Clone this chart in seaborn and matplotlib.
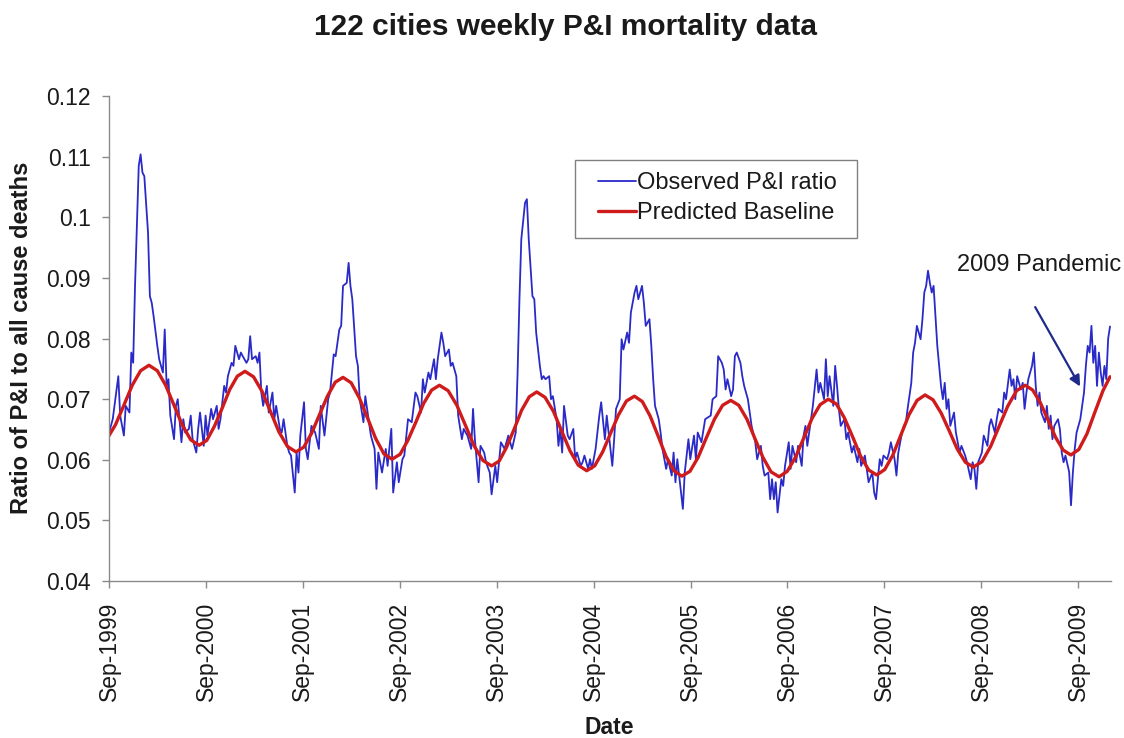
import numpy as np
import pandas as pd
import matplotlib
matplotlib.use("Agg")
import matplotlib.pyplot as plt
from matplotlib.patches import Rectangle
import seaborn as sns

sns.set_theme(style="ticks")
plt.rcParams['font.family'] = ['Liberation Sans', 'DejaVu Sans']

START = pd.Timestamp("1999-09-01")

# ---- observed weekly P&I ratio (week index since Sep-1999, value) ----
obs_week = [
    0, 2, 5, 6, 8, 9, 11, 12, 13, 14, 16, 17, 18, 19, 21, 22, 23, 24, 26, 27, 29, 30, 31, 32, 33,
    35, 36, 37, 39, 40, 41, 43, 44, 45, 47, 48, 49, 51, 52, 53, 55, 56, 58, 59, 60, 62, 63, 64, 66,
    67, 68, 70, 71, 72, 74, 75, 76, 77, 79, 80, 81, 82, 83, 85, 86, 88, 89, 90, 92, 93, 94, 96, 97,
    98, 100, 101, 102, 103, 105, 106,
    107, 109, 111, 113, 114, 116, 118, 119, 121, 122, 124, 125, 126, 128, 129, 130, 131, 133, 134,
    135, 137, 138, 140, 141, 143, 144, 145, 147, 149, 150, 152, 153, 155, 156, 158, 159, 161, 163,
    165, 166, 168, 169, 170, 172, 173, 175, 176, 177, 179, 180, 181, 183, 184, 185, 187, 188, 190,
    191, 192, 193, 195, 196, 197, 199, 200, 202, 203, 205, 206, 208, 209, 211, 213, 215,
    217, 219, 220, 221, 222, 224, 225, 226, 228, 229, 230, 232, 233, 234, 235, 237, 238, 239, 241,
    242, 243, 244, 245, 247, 248, 250, 251, 252, 254, 255, 256, 258, 259, 260, 262, 263, 264, 265,
    267, 268, 269, 271, 272, 273, 275, 276, 277, 279, 280, 281, 283, 284, 285, 287, 288, 289, 291,
    292, 293, 294, 296, 297, 298, 300, 301, 303, 304, 305, 306, 308, 309, 310, 312, 313, 315, 316,
    317, 319, 321,
    324, 325, 327, 328, 330, 331, 332, 333, 335, 336, 337, 338, 340, 341, 342, 344, 345, 346, 348,
    349, 351, 352, 353, 355, 356, 357, 358, 359, 360, 362, 363, 364, 366, 367, 368, 370, 371, 373,
    374, 375, 376, 378, 379, 381, 382, 383, 385, 386, 387, 388, 390, 391, 392, 393, 394, 396, 397,
    398, 400, 401, 403, 404, 405, 407, 408, 409, 411, 412, 413, 415, 416, 417, 419, 420, 421, 423,
    424, 425, 427, 428, 429,
    430, 432, 433, 434, 435, 437, 438, 439, 440, 441, 442, 443, 444, 445, 446, 447, 448, 449, 450,
    451, 452, 453, 455, 456, 457, 458, 459, 461, 462, 464, 465, 466, 467, 468, 470, 471, 473, 474,
    475, 477, 478, 479, 481, 482, 483, 485, 486, 487, 488, 489, 491, 492, 493, 494, 495, 497, 498,
    499, 500, 501, 502, 504, 505, 506, 507, 508, 509, 511, 512, 513, 514, 515, 517, 518, 519, 520,
    521, 523, 525, 526, 527, 528, 529, 530, 531, 532, 533, 534, 535, 536, 537, 538, 539,
]
obs_ratio = [
    .0645, .0667, .0738, .0673, .0640, .0689, .0678, .0777, .0760, .0887, .1085, .1104, .1074, .1068,
    .0975, .0870, .0859, .0837, .0788, .0766, .0744, .0815, .0722, .0733, .0673,
    .0634, .0689, .0700, .0629, .0667, .0645, .0651, .0673, .0634, .0612, .0651, .0678, .0623, .0673,
    .0640, .0684, .0667, .0689, .0651, .0667, .0722, .0711, .0738, .0760,
    .0755, .0788, .0766, .0777, .0771, .0760, .0766, .0804, .0766, .0771, .0760, .0777, .0711, .0689,
    .0722, .0678, .0711, .0667, .0689, .0651, .0645, .0667, .0623, .0612,
    .0607, .0546, .0612, .0579, .0640, .0695, .0618,
    .0601, .0656, .0645, .0618, .0689, .0640, .0700, .0711, .0774, .0771, .0815, .0821, .0887, .0892,
    .0925, .0887, .0865, .0771, .0755,
    .0700, .0662, .0705, .0662, .0640, .0618, .0552, .0612, .0579, .0618, .0590, .0651, .0546, .0596,
    .0563, .0601, .0607, .0667, .0662,
    .0711, .0705, .0678, .0733, .0711, .0744, .0733, .0766, .0733, .0766, .0810, .0793, .0771, .0782,
    .0755, .0760, .0738, .0673, .0634,
    .0651, .0645, .0640, .0618, .0684, .0634, .0563, .0623, .0612, .0596, .0579, .0543, .0590, .0563,
    .0629, .0618, .0640,
    .0618, .0645, .0744, .0865, .0964, .1024, .1030, .0964, .0870, .0865, .0810, .0755, .0733, .0738,
    .0733, .0738, .0700, .0705, .0667,
    .0623, .0651, .0612, .0689, .0640, .0634, .0651, .0601, .0612, .0590, .0596, .0607, .0585, .0601,
    .0585, .0618, .0645, .0673, .0695,
    .0634, .0673, .0645, .0590, .0634, .0684, .0700, .0799, .0782, .0810, .0793, .0843, .0876, .0887,
    .0865, .0887, .0859, .0821, .0832,
    .0788, .0733, .0689, .0667, .0645, .0618, .0585, .0601, .0574, .0612, .0563, .0601, .0546, .0519,
    .0579, .0634, .0601, .0640, .0601,
    .0645, .0629, .0667,
    .0673, .0700, .0705, .0771, .0760, .0749, .0716, .0733, .0705, .0716, .0771, .0777, .0760, .0738,
    .0722, .0700, .0678, .0656, .0629,
    .0601, .0623, .0590, .0574, .0579, .0535, .0568, .0535, .0563, .0513, .0568, .0557, .0590, .0629,
    .0585, .0623, .0596, .0623, .0590,
    .0640, .0656, .0623, .0667, .0689, .0749, .0711, .0727, .0700, .0766, .0705, .0738, .0689, .0755,
    .0722, .0684, .0656, .0667, .0634,
    .0645, .0612, .0623, .0596, .0618, .0590, .0607, .0585, .0563, .0579, .0546, .0535, .0601, .0590,
    .0607, .0601, .0612, .0629, .0601,
    .0574, .0612, .0645, .0656, .0660,
    .0684, .0727, .0777, .0793, .0821, .0799, .0832, .0876, .0887, .0912, .0892, .0876, .0887, .0837,
    .0788, .0755, .0722, .0700, .0727,
    .0684, .0700, .0656, .0678, .0645, .0629, .0612, .0623, .0607, .0596, .0568, .0596, .0585, .0552,
    .0596, .0612, .0640, .0623, .0656,
    .0667, .0645, .0667, .0684, .0678, .0711, .0700, .0749, .0722, .0733, .0700, .0738, .0716, .0727,
    .0684, .0711, .0733, .0755, .0777,
    .0722, .0689, .0711, .0678, .0662, .0689, .0651, .0673, .0634, .0656, .0667, .0651, .0612, .0596,
    .0607, .0580, .0525, .0579, .0618,
    .0645, .0667, .0711, .0755, .0788, .0777, .0821, .0760, .0788, .0722, .0777, .0744, .0722, .0755,
    .0733, .0800, .0820,
]

# ---- predicted seasonal baseline (week index, value) ----
base_week = [
    0, 3.5, 8, 12.5, 17, 21.5, 26, 30.5, 35, 39.5, 44, 48.5, 52.6, 56.7, 60.9, 65.0, 69.1, 73.2,
    77.8, 82.4, 86.9, 91.5, 96.1, 100.7, 104.9, 109.1, 113.4, 117.6, 121.8, 126, 130.4, 134.8,
    139.2, 143.6, 148, 152.4, 156.7, 160.9, 165.2, 169.4, 173.7, 177.9, 182.6, 187.3, 191.9,
    196.6, 201.3, 206, 210.1, 214.1, 218.2, 222.2, 226.3, 230.3, 234.8, 239.3, 243.8, 248.2,
    252.7, 257.2, 261.5, 265.8, 270.1, 274.3, 278.6, 282.9, 287.2, 291.4, 295.7, 299.9, 304.2,
    308.4, 312.8, 317.2, 321.6, 326, 330.4, 334.8, 339.1, 343.5, 347.8, 352.1, 356.5, 360.8,
    365.2, 369.6, 374.1, 378.5, 382.9, 387.3, 391.7, 396, 400.4, 404.7, 409.1, 413.4, 417.7,
    422.1, 426.4, 430.7, 435.1, 439.4, 443.7, 448.1, 452.4, 456.7, 461.1, 465.4, 470.1, 474.7,
    479.4, 484, 488.7, 493.3, 497.4, 501.5, 505.6, 509.7, 513.8, 517.9, 522.2, 526.6, 530.9,
    535.2, 539,
]
base_ratio = [
    .0640, .0658, .0690, .0723, .0747, .0756, .0747, .0723, .0690, .0657, .0633, .0624, .0632,
    .0655, .0685, .0716, .0738, .0746, .0737, .0713, .0680, .0646, .0622, .0613, .0621, .0644,
    .0675, .0705, .0728, .0736, .0727, .0702, .0669, .0635, .0610, .0601, .0609, .0632, .0662,
    .0693, .0715, .0723, .0714, .0690, .0657, .0623, .0599, .0590, .0598, .0621, .0651, .0682,
    .0704, .0712, .0703, .0680, .0647, .0615, .0591, .0582, .0590, .0613, .0644, .0674, .0697,
    .0705, .0696, .0672, .0639, .0606, .0582, .0573, .0581, .0604, .0636, .0667, .0690, .0698,
    .0690, .0667, .0635, .0604, .0580, .0572, .0581, .0604, .0636, .0668, .0691, .0700, .0692,
    .0669, .0638, .0606, .0583, .0575, .0584, .0608, .0641, .0674, .0698, .0707, .0699, .0677,
    .0648, .0618, .0596, .0588, .0597, .0622, .0656, .0689, .0714, .0723, .0715, .0694, .0666,
    .0637, .0616, .0608, .0617, .0643, .0679, .0714, .0737,
]

y_ticks = [0.04, 0.05, 0.06, 0.07, 0.08, 0.09, 0.10, 0.11, 0.12]
y_tick_labels = ["0.04", "0.05", "0.06", "0.07", "0.08", "0.09", "0.1", "0.11", "0.12"]
x_tick_dates = ["1999-09-01", "2000-09-01", "2001-09-01", "2002-09-01", "2003-09-01",
                "2004-09-01", "2005-09-01", "2006-09-01", "2007-09-01", "2008-09-01",
                "2009-09-01"]
x_tick_labels = ["Sep-1999", "Sep-2000", "Sep-2001", "Sep-2002", "Sep-2003", "Sep-2004",
                 "Sep-2005", "Sep-2006", "Sep-2007", "Sep-2008", "Sep-2009"]


def to_dates(weeks):
    return START + pd.to_timedelta(np.asarray(weeks, dtype=float) * 7, unit="D")


obs_df = pd.DataFrame({"date": to_dates(obs_week), "ratio": obs_ratio})
base_df = pd.DataFrame({"date": to_dates(base_week), "ratio": base_ratio})

TXT = "#1a1a1a"
GRAY = "#8a8a8a"

fig = plt.figure(figsize=(11.24, 7.38), dpi=100)
ax = fig.add_axes([0.097, 0.2127, 0.8915, 0.657])

sns.lineplot(data=obs_df, x="date", y="ratio", ax=ax, color="#2a2ac8", linewidth=1.3,
             estimator=None, label="Observed P&I ratio")
sns.lineplot(data=base_df, x="date", y="ratio", ax=ax, color="#cf1b1b", linewidth=2.4,
             estimator=None, label="Predicted Baseline")

ax.set_ylim(0.04, 0.12)
ax.set_xlim(START, pd.Timestamp("2010-01-03"))
ax.set_yticks(y_ticks)
ax.set_yticklabels(y_tick_labels)
ax.set_xticks(pd.to_datetime(x_tick_dates))
ax.set_xticklabels(x_tick_labels, rotation=90)

for s in ["top", "right"]:
    ax.spines[s].set_visible(False)
for s in ["left", "bottom"]:
    ax.spines[s].set_color(GRAY)
    ax.spines[s].set_linewidth(1.0)

ax.tick_params(axis="y", direction="out", length=5, width=1, color=GRAY, pad=8,
               labelsize=16.5, labelcolor=TXT)
ax.tick_params(axis="x", direction="out", length=5, width=1, color=GRAY, pad=10,
               labelsize=16.5, labelcolor=TXT)

ax.set_ylabel("Ratio of P&I to all cause deaths", fontsize=17, fontweight="bold", color=TXT)
ax.yaxis.set_label_coords(-0.076, 0.502)
ax.set_xlabel("Date", fontsize=16.5, fontweight="bold", color=TXT)
ax.xaxis.set_label_coords(0.4995, -0.278)

fig.text(0.503, 0.963, "122 cities weekly P&I mortality data", ha="center", va="center",
         fontsize=21.5, fontweight="bold", color=TXT)

# legend: frame drawn as a box, entries placed inside it
ax.add_patch(Rectangle((0.4651, 0.7072), 0.2814, 0.1608, transform=ax.transAxes,
                       facecolor="white", edgecolor="#808080", linewidth=1.0, zorder=5))
handles, labels = ax.get_legend_handles_labels()
leg = ax.legend(handles, labels, loc="upper left", bbox_to_anchor=(0.488, 0.8433),
                borderaxespad=0, borderpad=0, fontsize=17, frameon=False,
                handlelength=1.6, handletextpad=0.05, labelspacing=0.35)
leg.set_zorder(6)
for t in leg.get_texts():
    t.set_color(TXT)

# annotation for the 2009 pandemic
ax.annotate("", xy=(to_dates([522.9])[0], 0.0721), xytext=(to_dates([498.7])[0], 0.0852),
            arrowprops=dict(arrowstyle="-|>", color="#1f2b8a", lw=1.6, mutation_scale=16,
                            shrinkA=0, shrinkB=0), annotation_clip=False)
ax.text(to_dates([456.6])[0], 0.0922, "2009 Pandemic", fontsize=17, color=TXT,
        ha="left", va="center", clip_on=False)

fig.savefig("out.png", dpi=100)
